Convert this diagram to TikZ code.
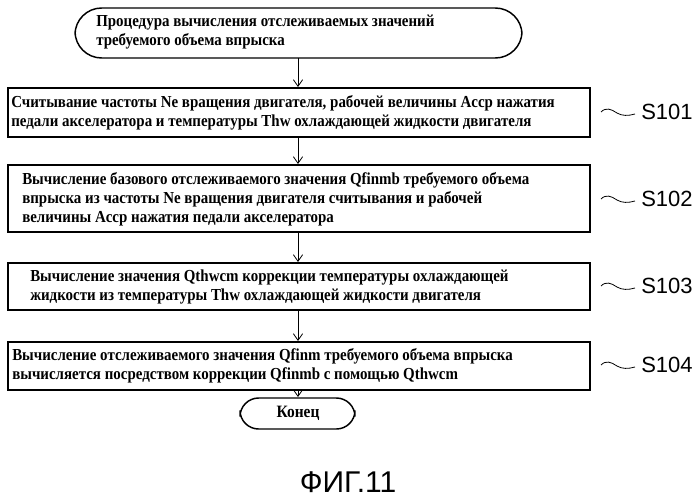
\documentclass[tikz,border=0pt]{standalone}
\usepackage{fontspec}
\setmainfont{Liberation Serif}[FakeStretch=0.89]
\setsansfont{Liberation Sans}
\usetikzlibrary{arrows.meta}
\begin{document}
\begin{tikzpicture}[x=0.75pt,y=-0.75pt,
 box/.style={draw,line width=1.3pt},
 term/.style={draw,line width=1.1pt,rounded corners=20pt},
 txt/.style={anchor=west,align=left,font=\bfseries\fontsize{12.6}{14.4}\selectfont,inner sep=0pt},
 arr/.style={-{Straight Barb[length=5pt,width=7pt]},line width=0.6pt},
 lab/.style={font=\sffamily\fontsize{16.5}{18}\selectfont,anchor=west,inner sep=0pt},
 wig/.style={line width=0.6pt}]
\useasboundingbox (0,0) rectangle (699,500);
\draw[term] (75,8) rectangle (522,58);
\node[txt] (t0) at (96,32) {Процедура вычисления отслеживаемых значений\\требуемого объема впрыска};
\draw[box] (8,88) rectangle (590,137);
\node[txt] (t1) at (11,113) {Считывание частоты Ne вращения двигателя, рабочей величины Accp нажатия\\педали акселератора и температуры Thw охлаждающей жидкости двигателя};
\draw[box] (8,165) rectangle (590,232);
\node[txt] (t2) at (22,199) {Вычисление базового отслеживаемого значения Qfinmb требуемого объема\\впрыска из частоты Ne вращения двигателя считывания и рабочей\\величины Accp нажатия педали акселератора};
\draw[box] (8,263) rectangle (590,310);
\node[txt] (t3) at (30,287) {Вычисление значения Qthwcm коррекции температуры охлаждающей\\жидкости из температуры Thw охлаждающей жидкости двигателя};
\draw[box] (8,342) rectangle (590,390);
\node[txt] (t4) at (12,366) {Вычисление отслеживаемого значения Qfinm требуемого объема впрыска\\вычисляется посредством коррекции Qfinmb с помощью Qthwcm};
\draw[term,rounded corners=14pt] (240,398) rectangle (355,429);
\node[font=\bfseries\fontsize{13}{15}\selectfont] (t5) at (298,413) {Конец};
\draw[arr] (298,58) -- (298,87);
\draw[arr] (298,137) -- (298,164);
\draw[arr] (298,232) -- (298,262);
\draw[arr] (298,310) -- (298,341);
\draw[arr] (298,390) -- (298,397);
\foreach \y/\t in {112/S101,199/S102,286/S103,365/S104}{
 \draw[wig] (601,\y) .. controls (606,\y-5) and (611,\y-3) .. (617,\y+1) .. controls (622,\y+4) and (628,\y+4) .. (635,\y+2);
 \node[lab] at (641,\y) {\t};}
\node[font=\sffamily\fontsize{22.5}{26}\selectfont] (fig) at (348,482) {ФИГ.11};
\end{tikzpicture}
\end{document}
